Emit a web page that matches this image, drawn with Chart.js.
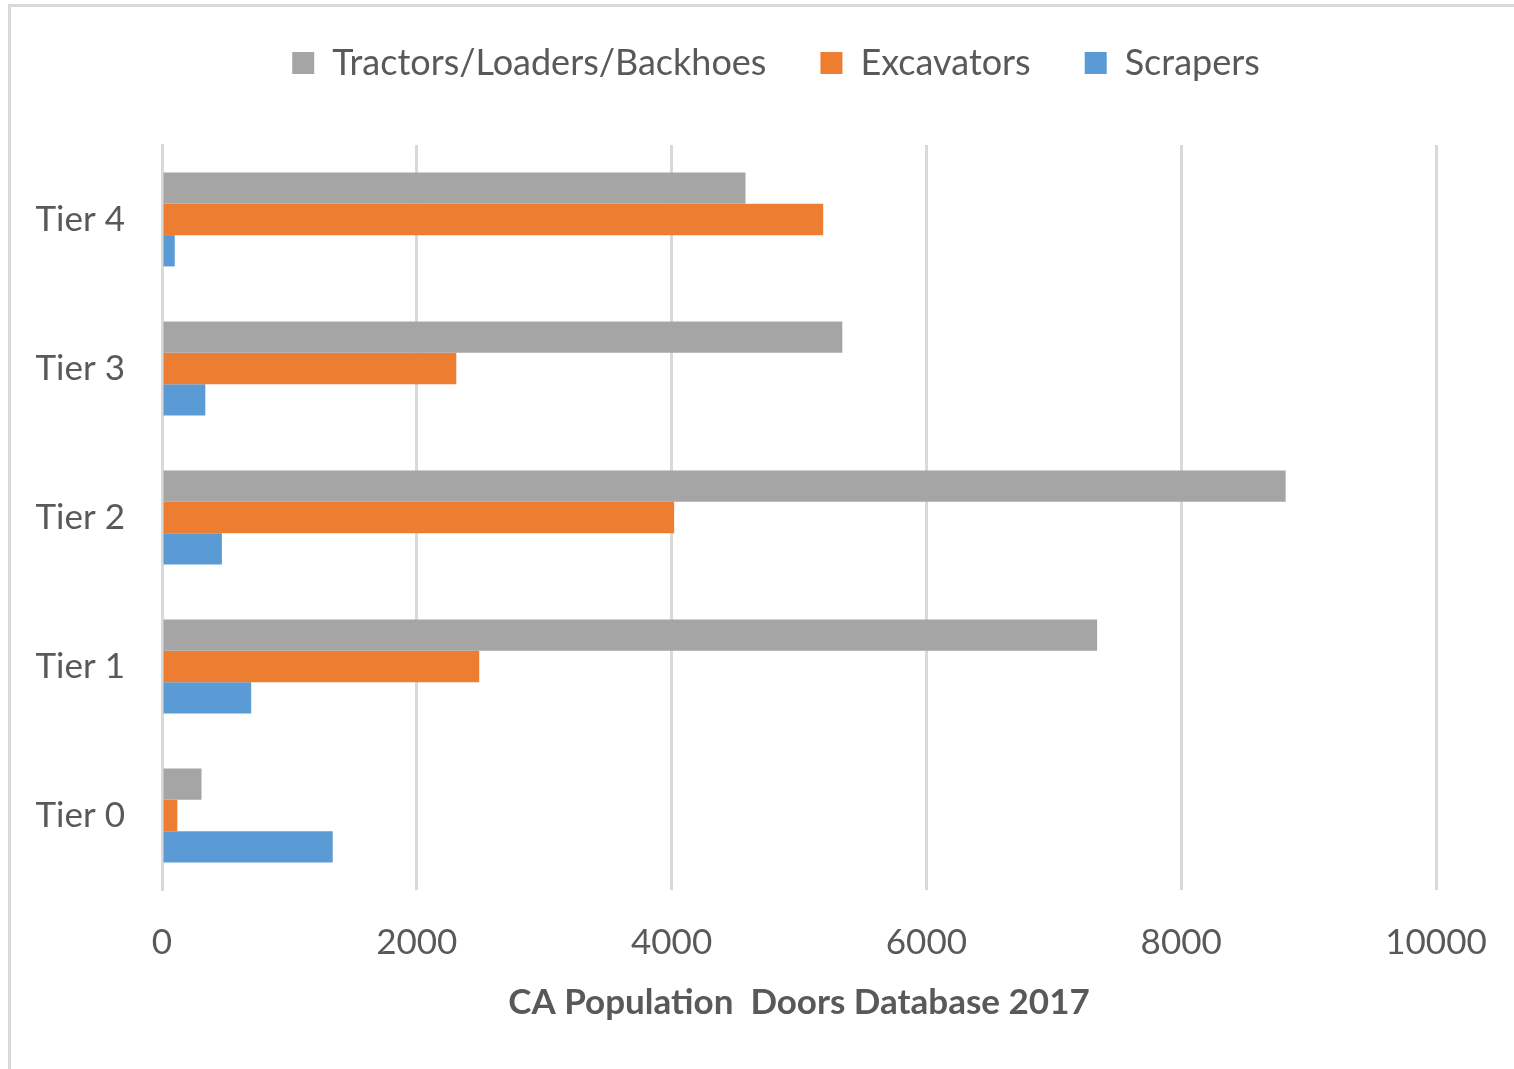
<!DOCTYPE html>
<html>
<head>
<meta charset="utf-8">
<script src="https://cdn.jsdelivr.net/npm/chart.js@4"></script>
<style>
  html, body { margin: 0; padding: 0; background: #fff; }
  #wrap { position: relative; width: 1514px; height: 1069px; overflow: hidden; }
  #frame { position: absolute; left: 8px; top: 4px; right: -10px; bottom: -10px;
           border-top: 3px solid #d9d9d9; border-left: 3px solid #d9d9d9; }
  canvas { position: absolute; left: 0; top: 0; }
</style>
</head>
<body>
<div id="wrap">
  <div id="frame"></div>
  <canvas id="myChart" width="1514" height="1069"></canvas>
</div>
<script>
const categories = ['Tier 0', 'Tier 1', 'Tier 2', 'Tier 3', 'Tier 4'];
const tractors = [310, 7340, 8820, 5340, 4580];
const excavators = [120, 2490, 4020, 2310, 5190];
const scrapers = [1340, 700, 470, 340, 100];
const xTicks = [0, 2000, 4000, 6000, 8000, 10000];

const textColor = '#595959';
const fontFamily = 'Lato, "Open Sans", sans-serif';
const padTop = -9;

// legend block ends where the plot starts, and sits a bit to the right
const legendPlace = {
    id: 'legendPlace',
    beforeInit(chart) {
        const fit = chart.legend.fit;
        chart.legend.fit = function () {
            fit.bind(chart.legend)();
            this.height = 145 - padTop;
        };
    },
    afterLayout(chart) {
        chart.legend.left += 48;
        chart.legend.right += 48;
    }
};

let ctx = document.getElementById('myChart');

let myChart = new Chart(ctx, {
    type: 'bar',
    data: {
        labels: categories,
        datasets: [
            { label: 'Tractors/Loaders/Backhoes', data: tractors, backgroundColor: '#a5a5a5' },
            { label: 'Excavators', data: excavators, backgroundColor: '#ed7d31' },
            { label: 'Scrapers', data: scrapers, backgroundColor: '#5b9bd5' }
        ]
    },
    plugins: [legendPlace],
    options: {
        indexAxis: 'y',
        responsive: false,
        animation: false,
        categoryPercentage: 0.63,
        barPercentage: 1.0,
        layout: { padding: { left: 20, right: 78, top: padTop, bottom: 45 } },
        plugins: {
            tooltip: { enabled: false },
            legend: {
                position: 'top',
                labels: {
                    color: textColor,
                    font: { family: fontFamily, size: 36 },
                    boxWidth: 22,
                    boxHeight: 22,
                    padding: 54
                }
            }
        },
        scales: {
            x: {
                min: 0,
                max: 10000,
                afterBuildTicks: (axis) => { axis.ticks = xTicks.map(v => ({ value: v })); },
                afterFit: (axis) => { axis.paddingLeft = 0; axis.paddingRight = 0; },
                ticks: {
                    color: textColor,
                    font: { family: fontFamily, size: 35 },
                    padding: 32,
                    callback: (v) => String(v)
                },
                grid: { color: '#d9d9d9', lineWidth: 3, drawTicks: false },
                border: { display: false },
                title: {
                    display: true,
                    text: 'CA Population  Doors Database 2017',
                    color: textColor,
                    font: { family: fontFamily, size: 35, weight: 'bold' },
                    padding: { top: -14, bottom: 0 }
                }
            },
            y: {
                reverse: true,
                afterFit: (axis) => { axis.width = 142; },
                ticks: {
                    color: textColor,
                    font: { family: fontFamily, size: 35 },
                    padding: 37
                },
                grid: { display: false, drawTicks: false },
                border: { display: true, color: '#d9d9d9', width: 3 }
            }
        }
    }
});
</script>
</body>
</html>
